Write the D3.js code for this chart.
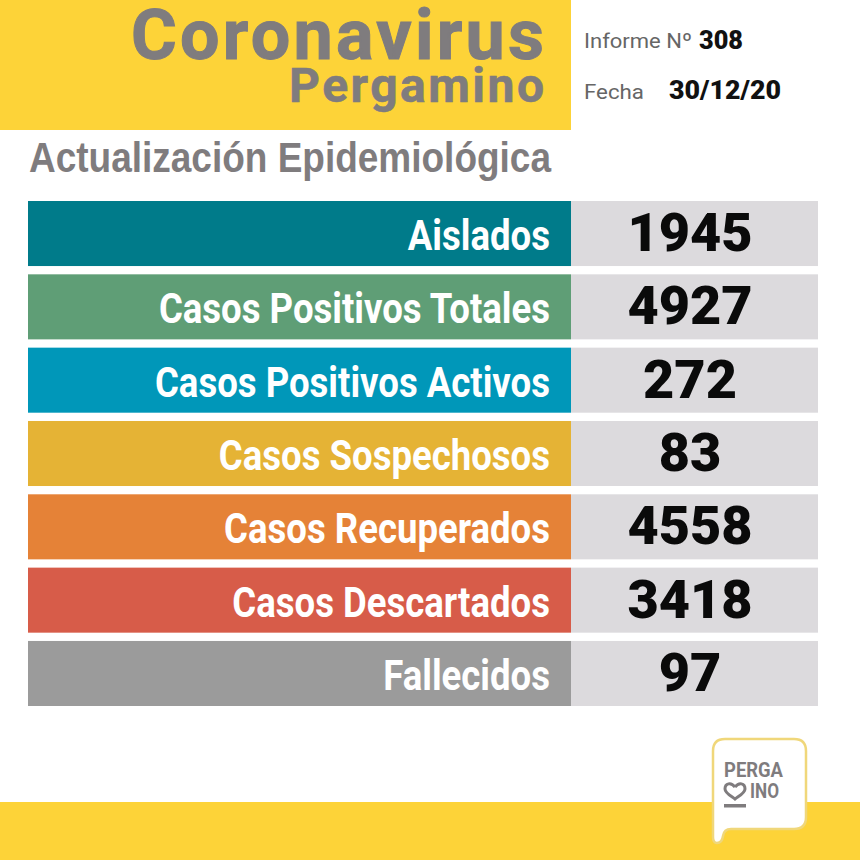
<!DOCTYPE html>
<html>
<head>
<meta charset="utf-8">
<script src="https://cdn.jsdelivr.net/npm/d3@7"></script>
<style>
  html, body { margin: 0; padding: 0; background: #fff; }
  svg { display: block; }
</style>
</head>
<body>
<script>
// data
const categories = ["Aislados", "Casos Positivos Totales", "Casos Positivos Activos", "Casos Sospechosos", "Casos Recuperados", "Casos Descartados", "Fallecidos"]
const values = [1945, 4927, 272, 83, 4558, 3418, 97]
const barColors = ["#007b8a", "#5f9e76", "#0097b9", "#e5b335", "#e58237", "#d75c49", "#9b9b9b"]
const informe = "308"
const fecha = "30/12/20"

const width = 860, height = 860
const yellow = "#fdd338", grey = "#7f7c7e"

const svg = d3.select("body").append("svg")
    .attr("width", width)
    .attr("height", height)

svg.append("rect").attr("width", width).attr("height", height).attr("fill", "#fff")

// yellow areas
svg.append("rect").attr("width", 571).attr("height", 130).attr("fill", yellow)
svg.append("rect").attr("y", 802).attr("width", width).attr("height", 58).attr("fill", yellow)

// header text
function label(txt, x, y, size, opts) {
    opts = opts || {}
    const t = svg.append("text")
        .attr("x", x)
        .attr("y", y)
        .attr("font-family", opts.font || "Roboto")
        .attr("font-size", size)
        .attr("font-weight", opts.weight || 400)
        .attr("fill", opts.fill || grey)
        .text(txt)
    if (opts.len) t.attr("textLength", opts.len).attr("lengthAdjust", opts.adjust || "spacingAndGlyphs")
    if (opts.stroke) t.attr("stroke", opts.fill || grey).attr("stroke-width", opts.stroke)
    return t
}

label("Coronavirus", 131, 59, 70, { weight: 700, len: 413, adjust: "spacing", stroke: 1 })
label("Pergamino", 289, 102, 48, { weight: 700, len: 255, adjust: "spacing", stroke: 0.6 })
label("Actualización Epidemiológica", 29, 172, 43, { font: "Liberation Sans", weight: 700, len: 522 })

label("Informe Nº", 584, 48, 21, { fill: "#666", len: 108 })
label(informe, 699, 49, 26, { weight: 900, fill: "#111", len: 44 })
label("Fecha", 584, 99, 21, { fill: "#666", len: 60 })
label(fecha, 669, 99, 26, { weight: 900, fill: "#111", len: 112 })

// rows
const y = d3.scaleBand()
    .domain(categories)
    .range([201, 706])
    .paddingInner(0.113)

const color = d3.scaleOrdinal().domain(categories).range(barColors)

const rows = svg.selectAll("g.row")
    .data(categories.map((c, i) => ({ name: c, value: values[i] })))
    .enter()
    .append("g")
      .attr("class", "row")
      .attr("transform", d => "translate(0," + y(d.name) + ")")

rows.append("rect")
    .attr("x", 28)
    .attr("width", 543)
    .attr("height", y.bandwidth())
    .attr("fill", d => color(d.name))

rows.append("rect")
    .attr("x", 571)
    .attr("width", 247)
    .attr("height", y.bandwidth())
    .attr("fill", "#dcdadd")

// labels are a condensed face in the original, so squeeze Roboto sideways
rows.append("text")
    .attr("transform", "translate(550,49) scale(0.85,1)")
    .attr("text-anchor", "end")
    .attr("font-family", "Roboto")
    .attr("font-weight", 700)
    .attr("font-size", 43)
    .attr("fill", "#fff")
    .text(d => d.name)

rows.append("text")
    .attr("x", 690)
    .attr("y", 50)
    .attr("text-anchor", "middle")
    .attr("font-family", "Roboto")
    .attr("font-weight", 900)
    .attr("font-size", 54)
    .attr("fill", "#0a0a0a")
    .text(d => d.value)

// logo bubble
const logo = svg.append("g").attr("transform", "translate(713,739)")
logo.append("path")
    .attr("d", "M12,0 H81 Q93,0 93,12 V78 Q93,90 81,90 H18 Q11,90 10,97 Q9,104 4,104 Q0,104 0,98 V12 Q0,0 12,0 Z")
    .attr("fill", "#fff")
    .attr("stroke", "#f0d77a")
    .attr("stroke-width", 2.5)

logo.append("text")
    .attr("x", 11).attr("y", 38)
    .attr("font-family", "Roboto").attr("font-weight", 700).attr("font-size", 21)
    .attr("fill", grey).attr("textLength", 59).attr("lengthAdjust", "spacingAndGlyphs")
    .text("PERGA")
logo.append("text")
    .attr("x", 37).attr("y", 59)
    .attr("font-family", "Roboto").attr("font-weight", 700).attr("font-size", 21)
    .attr("fill", grey).attr("textLength", 29).attr("lengthAdjust", "spacingAndGlyphs")
    .text("INO")
// heart that stands in for the M
logo.append("path")
    .attr("d", "M22,48 C18,43 12,44 12,50 C12,54 18,57 22,60 C26,57 32,54 32,50 C32,44 26,43 22,48")
    .attr("fill", "none")
    .attr("stroke", grey)
    .attr("stroke-width", 3)
logo.append("rect")
    .attr("x", 11).attr("y", 65)
    .attr("width", 22).attr("height", 3.5)
    .attr("fill", grey)
</script>
</body>
</html>
